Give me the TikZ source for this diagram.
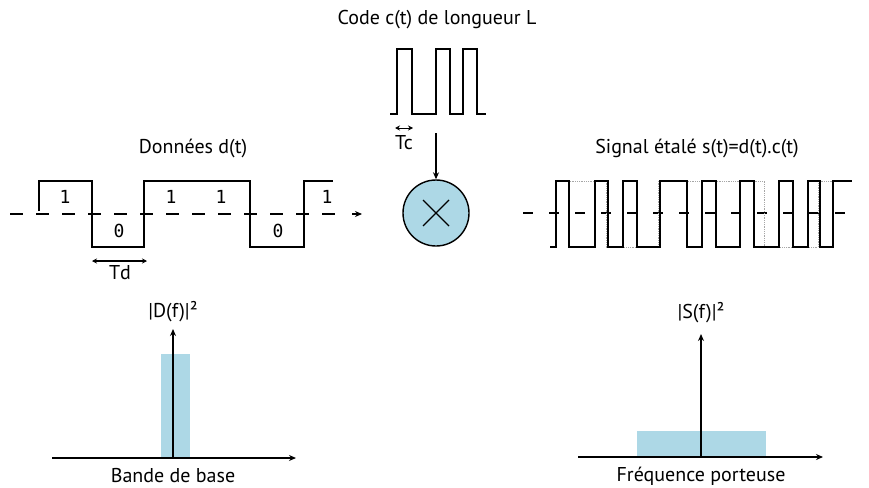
\documentclass[tikz,border=0pt]{standalone}
\usepackage{fontspec}
\setmainfont{PT Sans}
\newfontfamily\digitfont{DejaVu Sans Mono}
\usetikzlibrary{arrows.meta, positioning}
\definecolor{specblue}{RGB}{173,216,230}

\begin{document}
\begin{tikzpicture}[
          x=1pt, y=-1pt,
          sig/.style={line width=1.4pt, line join=miter},
          ghost/.style={gray!70, line width=0.8pt, densely dotted},
          axisdash/.style={line width=1.4pt, dash pattern=on 13pt off 13pt},
          chipdash/.style={line width=1.4pt, dash pattern=on 10pt off 16pt},
          arr/.style={-{Stealth[length=7pt, width=6pt]}, line width=1.2pt},
          dblarr/.style={{Stealth[length=5pt, width=5pt]}-{Stealth[length=5pt, width=5pt]}, line width=1.1pt},
          lbl/.style={font=\fontsize{20}{22}\selectfont, inner sep=0pt},
          bit/.style={font=\digitfont\fontsize{18}{20}\selectfont, inner sep=0pt},
          mixer/.style={circle, draw, line width=1.4pt, fill=specblue, minimum size=66pt, inner sep=0pt}
        ]
        \useasboundingbox (0,0) rectangle (869,487);

        % donnees d(t)
        \node[lbl] (dtitle) at (193,148) {Données d(t)};
        \coordinate (daxl) at (10,214);
        \coordinate (daxr) at (362,214);
        \draw[axisdash] (daxl) -- (343,214);
        \draw[arr] (352,214) -- (daxr);
        \draw[sig] (39,211) -- (39,181) -- (92,181) -- (92,247) -- (144,247) -- (144,181)
          -- (250,181) -- (250,247) -- (304,247) -- (304,181) -- (333,181);
        \node[bit] (b1) at (65,197) {1};
        \node[bit] (b2) at (119,231) {0};
        \node[bit] (b3) at (171,197) {1};
        \node[bit] (b4) at (221,197) {1};
        \node[bit] (b5) at (278,231) {0};
        \node[bit] (b6) at (327,197) {1};
        \coordinate (tdl) at (92,261);
        \coordinate (tdr) at (147,261);
        \draw[dblarr] (tdl) -- (tdr);
        \node[lbl] (td) at (120,273) {Td};

        % code c(t)
        \node[lbl] (ctitle) at (437,20) {Code c(t) de longueur L};
        \draw[sig] (390,114) -- (397,114) -- (397,49) -- (412,49) -- (412,114) -- (436,114)
          -- (436,49) -- (450,49) -- (450,114) -- (463,114) -- (463,49) -- (477,49)
          -- (477,114) -- (486,114);
        \coordinate (tcl) at (395,128);
        \coordinate (tcr) at (413,128);
        \draw[dblarr, line width=0.9pt] (tcl) -- (tcr);
        \node[lbl] (tc) at (404,143) {Tc};
        \coordinate (cout) at (436,133);
        \node[mixer] (mult) at (436,213) {};
        \draw[line width=1.2pt] (mult.center) +(-13,-13) -- +(13,13);
        \draw[line width=1.2pt] (mult.center) +(-13,13) -- +(13,-13);
        \draw[arr] (cout) -- (mult.north);

        % signal etale s(t)
        \node[lbl] (stitle) at (697,148) {Signal étalé s(t)=d(t).c(t)};
        \draw[chipdash] (523,213) -- (858,213);
        \draw[ghost] (555,213) -- (555,181) -- (606,181) -- (606,247) -- (658,247) -- (658,181)
          -- (764,181) -- (764,247) -- (818,247) -- (818,181) -- (850,181);
        \draw[sig] (550,247) -- (556,247) -- (556,181) -- (569,181) -- (569,247) -- (595,247)
          -- (595,181) -- (608,181) -- (608,247) -- (623,247) -- (623,181) -- (637,181)
          -- (637,247) -- (660,247) -- (660,181) -- (687,181) -- (687,247) -- (702,247)
          -- (702,181) -- (716,181) -- (716,247) -- (740,247) -- (740,181) -- (754,181)
          -- (754,247) -- (779,247) -- (779,181) -- (793,181) -- (793,247) -- (808,247)
          -- (808,181) -- (820,181) -- (820,247) -- (833,247) -- (833,181) -- (852,181);

        % spectre bande de base
        \fill[specblue] (161,354) rectangle (190,458);
        \coordinate (dfo) at (173,458);
        \coordinate (dfl) at (52,458);
        \coordinate (dfr) at (296,458);
        \coordinate (dft) at (173,329);
        \draw[arr] (dfl) -- (dfr);
        \draw[arr] (dfo) -- (dft);
        \node[lbl] (dflabel) at (173,312) {|D(f)|²};
        \node[lbl] (bbase) at (173,476) {Bande de base};

        % spectre porteuse
        \fill[specblue] (637,431) rectangle (766,457);
        \coordinate (sfo) at (701,457);
        \coordinate (sfl) at (578,457);
        \coordinate (sfr) at (823,457);
        \coordinate (sft) at (701,334);
        \draw[arr] (sfl) -- (sfr);
        \draw[arr] (sfo) -- (sft);
        \node[lbl] (sflabel) at (701,313) {|S(f)|²};
        \node[lbl] (fport) at (701,476) {Fréquence porteuse};
      \end{tikzpicture}
\end{document}
